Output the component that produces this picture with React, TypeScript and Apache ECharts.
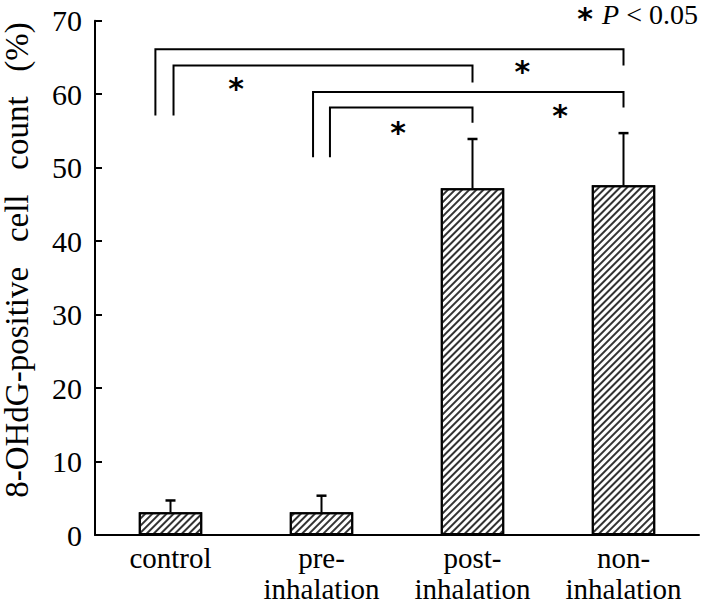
import React, { useEffect, useRef } from "react";
import * as echarts from "echarts";

const categories = ["control", "pre-\ninhalation", "post-\ninhalation", "non-\ninhalation"];
const means = [3.1, 3.1, 47.2, 47.6];
const sds = [1.6, 2.25, 6.7, 7.1];
const yTicks = [0, 10, 20, 30, 40, 50, 60, 70];

// significance brackets (x in category units, y in data units)
const bracketLeftX = [-0.1, 0.02, 0.944, 1.056];
const bracketRightX = [3.0, 2.0, 3.0, 2.0];
const bracketTop = [66.1, 63.9, 60.3, 58.2];
const bracketLeftBottom = [57.1, 57.1, 51.4, 51.4];
const bracketRightBottom = [63.9, 61.6, 58.2, 56.1];
const starX = [2.33, 0.434, 2.58, 1.507];
const starY = [63.7, 61.5, 57.8, 55.4];

const SERIF = "Liberation Serif";
const STAR_FONT = "DejaVu Sans";

export default function App() {
  const ref = useRef<HTMLDivElement>(null);
  useEffect(() => {
    if (!ref.current) return;
    const chart = echarts.init(ref.current, null, { renderer: "svg" });
    const sp = "\u00A0\u00A0\u00A0";
    chart.setOption({
      animation: false,
      backgroundColor: "#fff",
      grid: { left: 95, right: 7, top: 20.7, bottom: 70, outerBoundsMode: "none", containLabel: false },
      xAxis: [
        {
          type: "category",
          data: categories,
          axisLine: { onZero: false, lineStyle: { color: "#000", width: 2 } },
          axisTick: { inside: true, length: 6, lineStyle: { color: "#000", width: 2 } },
          axisLabel: { color: "#000", fontFamily: SERIF, fontSize: 29, lineHeight: 31, margin: 7, interval: 0 },
        },
        { type: "value", min: -0.5, max: 3.5, show: false, axisLine: { onZero: false } },
      ],
      yAxis: {
        type: "value",
        min: yTicks[0],
        max: yTicks[yTicks.length - 1],
        interval: 10,
        splitLine: { show: false },
        axisLine: { show: true, onZero: false, lineStyle: { color: "#000", width: 2 } },
        axisTick: { show: true, inside: true, length: 7, lineStyle: { color: "#000", width: 2 } },
        axisLabel: { color: "#000", fontFamily: SERIF, fontSize: 30, margin: 13, padding: [0, 0, 7, 0] },
      },
      graphic: [
        {
          type: "text",
          x: 17,
          y: 260,
          rotation: Math.PI / 2,
          style: {
            text: "8-OHdG-positive" + sp + "cell" + sp + "count" + sp + "(%)",
            fontFamily: SERIF,
            fontSize: 33,
            fill: "#000",
            align: "center",
            verticalAlign: "middle",
          },
        },
        {
          type: "text",
          x: 698,
          y: 14,
          style: {
            text: "{p|P}{t|\u00A0<\u00A00.05}",
            align: "right",
            verticalAlign: "middle",
            fill: "#000",
            rich: {
              p: { fontFamily: SERIF, fontSize: 28, fontStyle: "italic", fill: "#000" },
              t: { fontFamily: SERIF, fontSize: 28, fill: "#000" },
            },
          },
        },
        {
          type: "text",
          x: 585,
          y: 18,
          style: {
            text: "*",
            fontFamily: STAR_FONT,
            fontWeight: "bold",
            fontSize: 30,
            fill: "#000",
            align: "center",
            verticalAlign: "middle",
          },
        },
      ],
      series: [
        {
          type: "bar",
          data: means,
          barWidth: "42%",
          itemStyle: {
            color: "#fff",
            borderColor: "#000",
            borderWidth: 2,
            decal: {
              symbol: "rect",
              symbolSize: 1,
              dashArrayX: [1, 0],
              dashArrayY: [1.1, 2.4],
              rotation: -Math.PI / 4,
              color: "#333",
            },
          },
          z: 2,
        },
        {
          type: "custom",
          xAxisIndex: 0,
          z: 3,
          data: means.map((m, i) => [i, m, m + sds[i]]),
          encode: { x: 0, y: [1, 2] },
          renderItem: (params: any, api: any) => {
            const b = api.coord([api.value(0), api.value(1)]);
            const t = api.coord([api.value(0), api.value(2)]);
            return {
              type: "group",
              children: [
                { type: "line", shape: { x1: b[0], y1: b[1], x2: t[0], y2: t[1] }, style: { stroke: "#000", lineWidth: 2 } },
                { type: "line", shape: { x1: t[0] - 5, y1: t[1], x2: t[0] + 5, y2: t[1] }, style: { stroke: "#000", lineWidth: 2.5 } },
              ],
            };
          },
        },
        {
          type: "custom",
          xAxisIndex: 1,
          z: 3,
          data: bracketLeftX.map((x, i) => [x, bracketRightX[i], bracketTop[i], bracketLeftBottom[i], bracketRightBottom[i]]),
          encode: { x: [0, 1], y: [2, 3, 4] },
          renderItem: (params: any, api: any) => {
            const lt = api.coord([api.value(0), api.value(2)]);
            const rt = api.coord([api.value(1), api.value(2)]);
            const lb = api.coord([api.value(0), api.value(3)]);
            const rb = api.coord([api.value(1), api.value(4)]);
            return {
              type: "polyline",
              shape: { points: [lb, lt, rt, rb] },
              style: { fill: "none", stroke: "#000", lineWidth: 2 },
            };
          },
        },
        {
          type: "custom",
          xAxisIndex: 1,
          z: 3,
          data: starX.map((x, i) => [x, starY[i]]),
          encode: { x: 0, y: 1 },
          renderItem: (params: any, api: any) => {
            const p = api.coord([api.value(0), api.value(1)]);
            return {
              type: "text",
              x: p[0],
              y: p[1] + 5,
              style: { text: "*", fontFamily: STAR_FONT, fontWeight: "bold", fontSize: 30, fill: "#000", align: "center", verticalAlign: "middle" },
            };
          },
        },
      ],
    });
    return () => chart.dispose();
  }, []);
  return <div ref={ref} style={{ width: 706, height: 605, position: "absolute", left: 0, top: 0 }} />;
}
